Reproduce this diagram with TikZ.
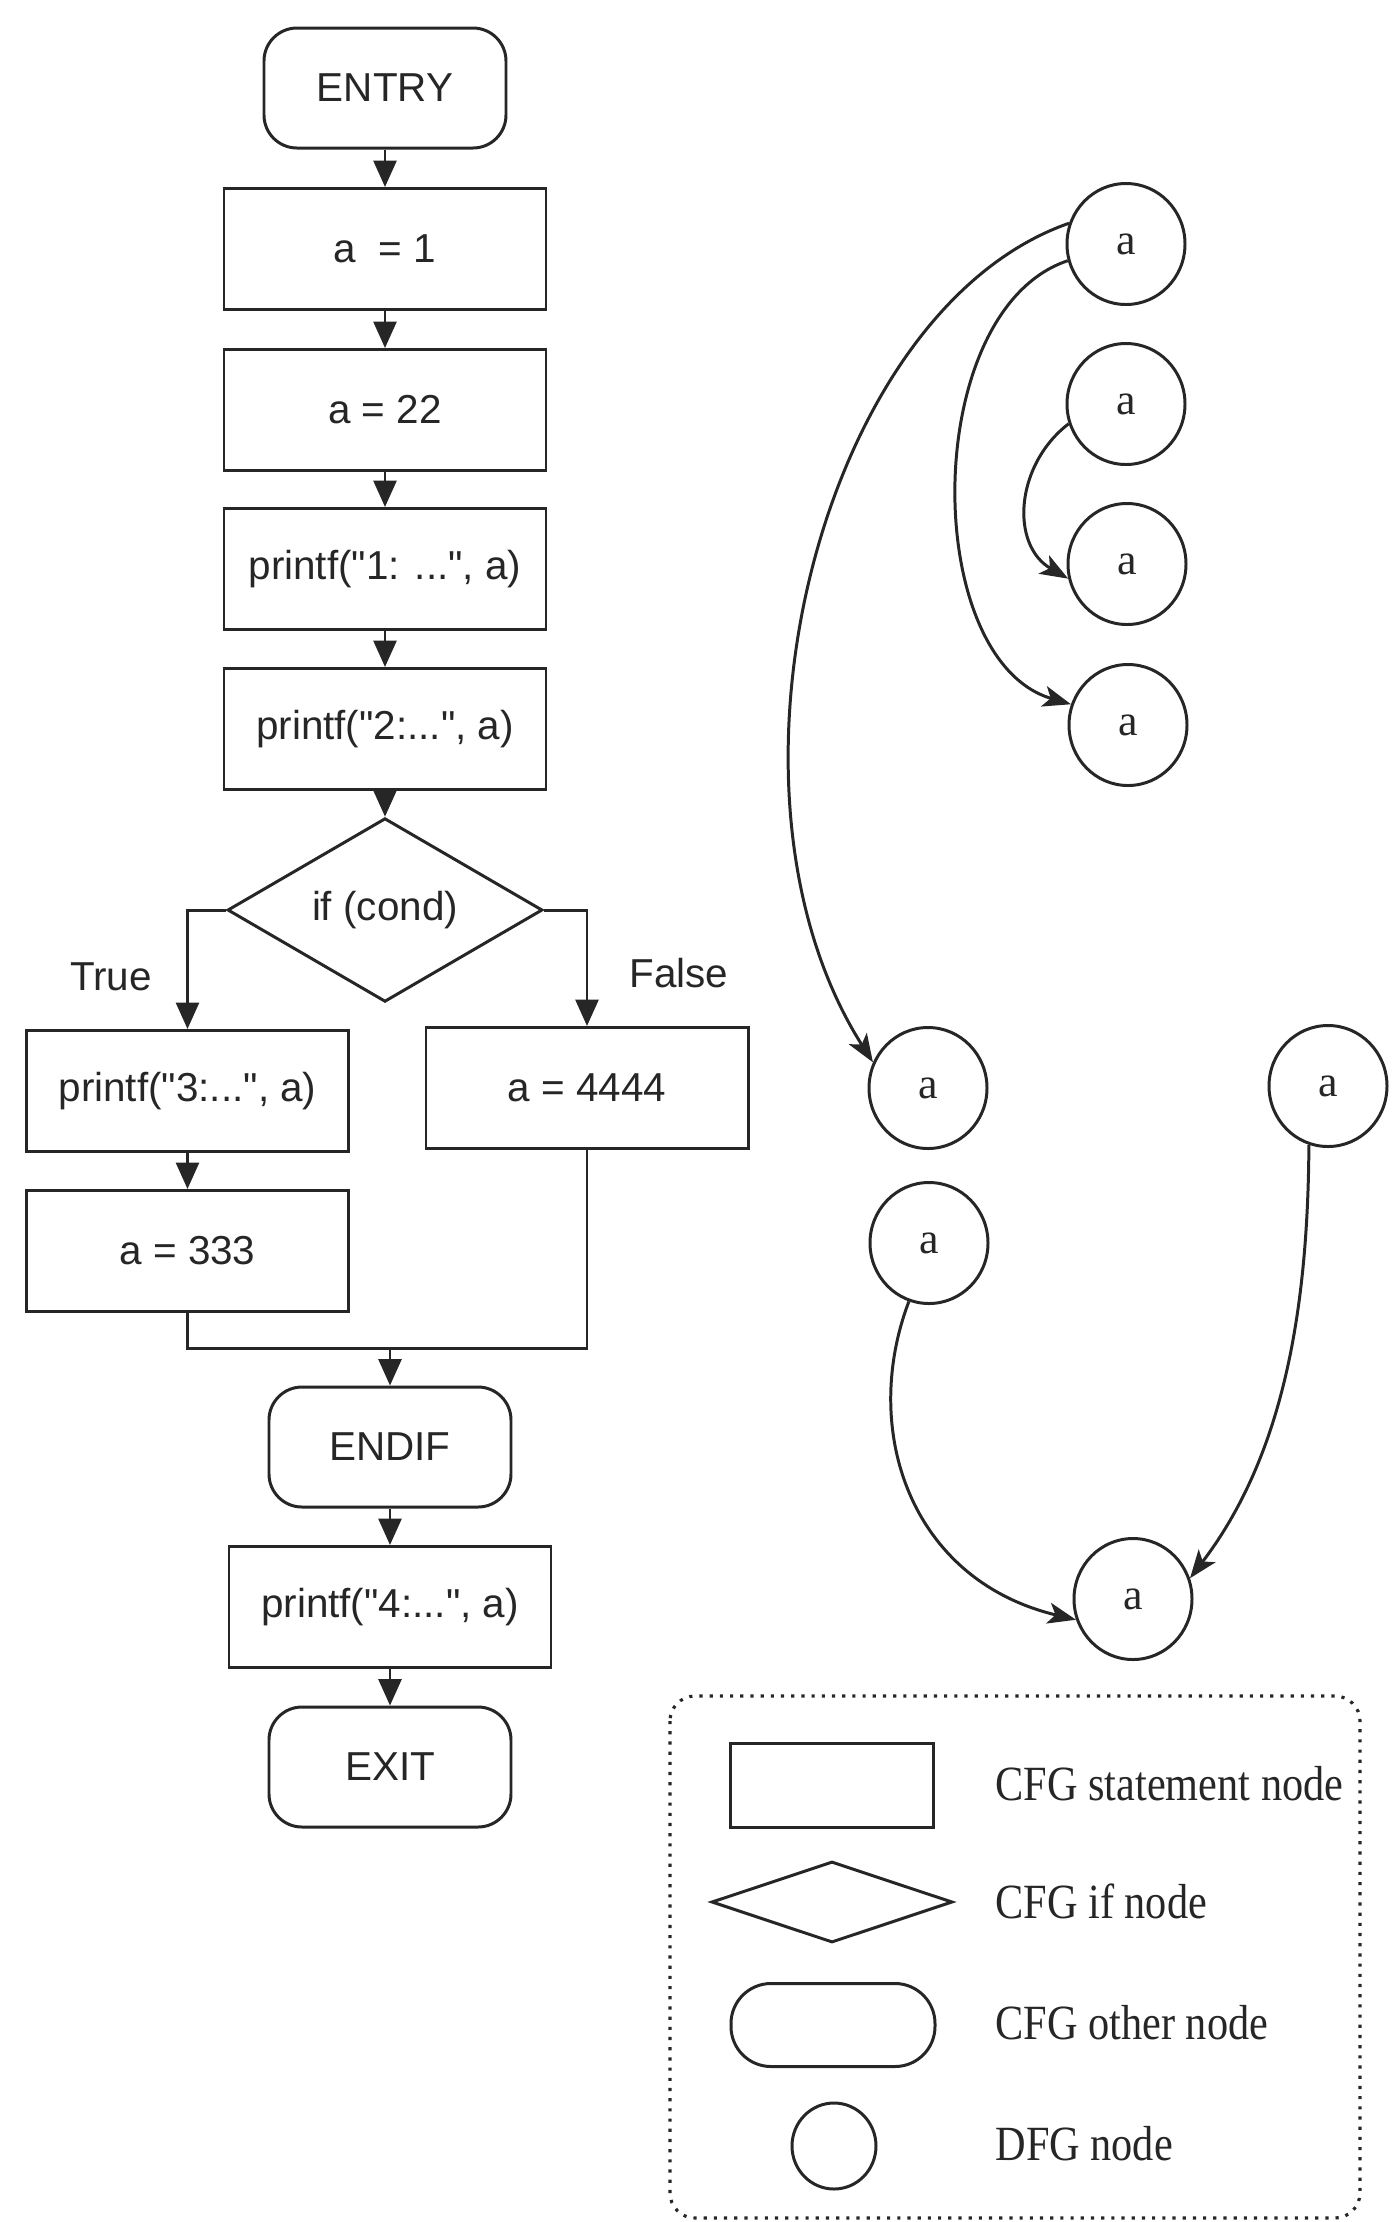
\documentclass[tikz,border=0pt]{standalone}
\usepackage{fontspec}
\newfontfamily\flowfont{Liberation Sans}
\newfontfamily\dfgfont{Liberation Serif}
\newfontfamily\keyfont[FakeStretch=0.86]{Liberation Serif}
\usetikzlibrary{shapes.geometric,arrows.meta}
\colorlet{ink}{black!85}

\begin{document}
\begin{tikzpicture}[line width=0.85pt,color=ink,
  every node/.style={font=\flowfont\fontsize{11.5}{13}\selectfont},
  stmt/.style={draw,rectangle,minimum width=3.22cm,minimum height=1.21cm,inner sep=0pt},
  term/.style={draw,rectangle,rounded corners=0.33cm,minimum width=2.42cm,minimum height=1.2cm,inner sep=0pt},
  test/.style={draw,diamond,minimum width=3.15cm,minimum height=1.6cm,inner sep=0pt},
  dfg/.style={draw,ellipse,minimum width=1.18cm,minimum height=1.21cm,inner sep=0pt,font=\dfgfont\fontsize{12.5}{14}\selectfont},
  key/.style={anchor=west,inner sep=0pt,font=\keyfont\fontsize{14}{16}\selectfont},
  flow/.style={-{Triangle[length=7.5pt,width=6.5pt]}},
  dep/.style={-{Stealth[length=8pt,width=6pt,inset=2pt]}}]
\useasboundingbox (0,0) rectangle (13.92,-22.22);

% control flow graph
\node[term] (entry) at (3.85,-0.88) {ENTRY};
\node[stmt] (s1) at (3.85,-2.49) {a\hspace{0.55em}= 1};
\node[stmt] (s2) at (3.85,-4.10) {a = 22};
\node[stmt] (s3) at (3.85,-5.69) {printf("1: ...", a)};
\node[stmt] (s4) at (3.85,-7.29) {printf("2:...", a)};
\node[test] (cond) at (3.85,-9.10) {if (cond)};
\node[stmt] (t1) at (1.875,-10.91) {printf("3:...", a)};
\node[stmt] (f1) at (5.87,-10.88) {a = 4444};
\node[stmt] (t2) at (1.875,-12.51) {a = 333};
\node (true) at (1.11,-9.77) {True};
\node (false) at (6.79,-9.73) {False};
\coordinate (merge) at (3.90,-13.48);
\node[term] (endif) at (3.90,-14.47) {ENDIF};
\node[stmt] (s5) at (3.90,-16.07) {printf("4:...", a)};
\node[term] (exit) at (3.90,-17.67) {EXIT};

\draw[flow] (entry) -- (s1);
\draw[flow] (s1) -- (s2);
\draw[flow] (s2) -- (s3);
\draw[flow] (s3) -- (s4);
\draw[flow] (s4) -- (cond);
\draw[flow] (cond.west) -| (t1);
\draw[flow] (cond.east) -| (f1);
\draw[flow] (t1) -- (t2);
\draw (t2) |- (merge) -| (f1);
\draw[flow] (merge) -- (endif);
\draw[flow] (endif) -- (s5);
\draw[flow] (s5) -- (exit);

% data flow graph
\node[dfg] (d1) at (11.26,-2.44) {a};
\node[dfg] (d2) at (11.26,-4.04) {a};
\node[dfg] (d3) at (11.27,-5.64) {a};
\node[dfg] (d4) at (11.28,-7.25) {a};
\node[dfg] (d5) at (9.28,-10.88) {a};
\node[dfg] (d6) at (13.28,-10.86) {a};
\node[dfg] (d7) at (9.29,-12.43) {a};
\node[dfg] (d8) at (11.33,-15.99) {a};

\draw[dep] (d1.160) .. controls (8.2,-3.1) and (7.0,-7.9) .. (d5.155);
\draw[dep] (d1.196) .. controls (9.2,-3.1) and (9.2,-6.6) .. (d4.160);
\draw[dep] (d2.199) .. controls (10.15,-4.65) and (10.1,-5.45) .. (d3.194);
\draw[dep] (d7.251) .. controls (8.6,-14.3) and (9.1,-15.8) .. (d8.200);
\draw[dep] (d6.252) .. controls (13.08,-13.2) and (12.8,-14.6) .. (d8.20);

% legend
\draw[dotted,line width=0.9pt,rounded corners=0.25cm] (6.70,-16.96) rectangle (13.60,-22.18);
\node[draw,minimum width=2.03cm,minimum height=0.84cm] (keystmt) at (8.32,-17.85) {};
\node[draw,diamond,minimum width=2.41cm,minimum height=0.81cm,inner sep=0pt] (keytest) at (8.32,-19.02) {};
\node[draw,rounded corners=0.4cm,minimum width=2.04cm,minimum height=0.83cm] (keyterm) at (8.33,-20.25) {};
\node[draw,ellipse,minimum width=0.84cm,minimum height=0.86cm,inner sep=0pt] (keydfg) at (8.34,-21.46) {};
\node[key] (keystmttxt) at (9.94,-17.84) {CFG statement node};
\node[key] (keytesttxt) at (9.94,-19.01) {CFG if node};
\node[key] (keytermtxt) at (9.94,-20.23) {CFG other node};
\node[key] (keydfgtxt) at (9.94,-21.44) {DFG node};
\end{tikzpicture}
\end{document}
